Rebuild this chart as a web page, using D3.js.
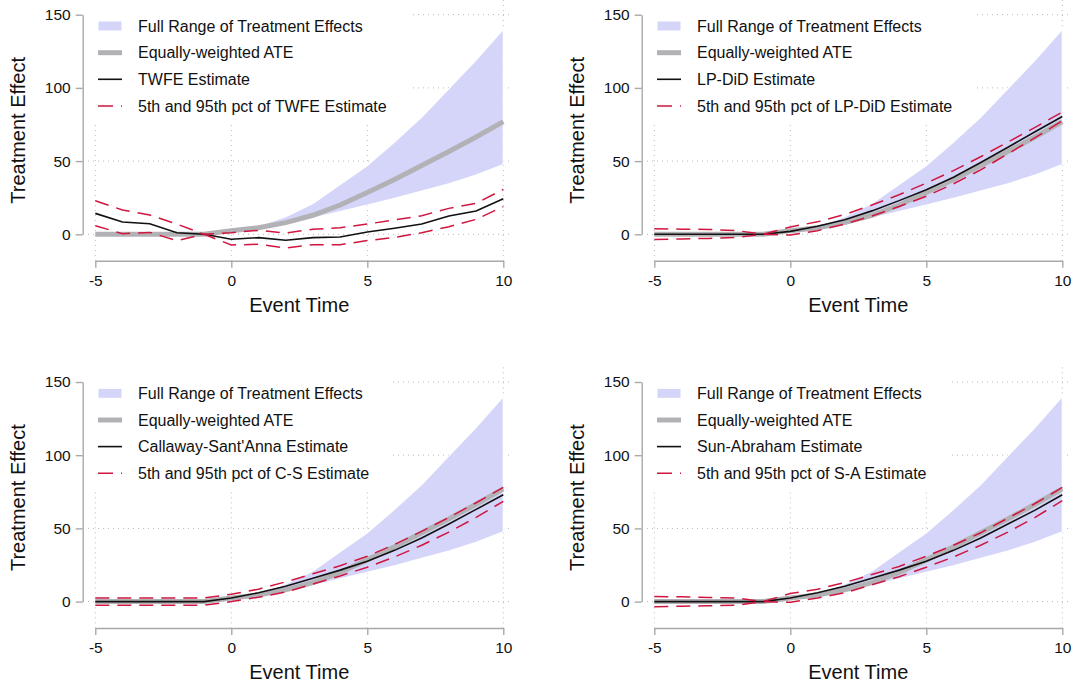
<!DOCTYPE html>
<html>
<head>
<meta charset="utf-8">
<script src="https://cdn.jsdelivr.net/npm/d3@7"></script>
<style>
body { margin: 0; background: #fff; }
text { font-family: "Liberation Sans", Arial, Helvetica, sans-serif; fill: #111; }
</style>
</head>
<body>
<svg id="chart" width="1075" height="686"></svg>
<script>
/*
 *** Data
 */
var eventTime = [-5, -4, -3, -2, -1, 0, 1, 2, 3, 4, 5, 6, 7, 8, 9, 10];

// full range of treatment effects (band) and equally-weighted ATE, same in all panels
var rangeLow  = [0, 0, 0, 0, 0, 2, 3.8, 7, 11, 15.5, 20, 24.5, 29.5, 34.5, 40.5, 47.7];
var rangeHigh = [0, 0, 0, 0, 0, 2.8, 5.8, 12, 21, 34, 47, 63, 80, 99.5, 119, 140];
var ateValues = [0, 0, 0, 0, 0, 2.5, 4.5, 8, 13, 20, 28.5, 37.5, 47, 56.5, 66.5, 77];

// TWFE
var twfeEst = [14.3, 8.4, 7.2, 1.1, 0, -3.4, -2.3, -4.1, -2.3, -1.8, 1.6, 4.1, 7, 12.5, 15.9, 24.3];
var twfeHi  = [22.9, 16.6, 13.2, 7, 0, 1.1, 2.7, 0.9, 3.4, 4.5, 7, 9.8, 12.7, 17.7, 21.1, 30.7];
var twfeLo  = [5.9, 0.4, 1.3, -4.3, 0, -7.3, -6.8, -9.3, -7.1, -7.1, -4.3, -2.1, 1.1, 5.2, 10.2, 18.9];

// LP-DiD
var lpdidEst = [0, 0, 0, 0, 0, 2, 5.5, 10, 16, 23, 30.5, 39, 49, 59.5, 70, 80.5];
var lpdidHi  = [3.8, 3.5, 3.3, 2.6, 0, 5, 8.5, 13.5, 20, 27, 35, 43.5, 53, 63, 73, 83.5];
var lpdidLo  = [-3.5, -3.2, -2.8, -2.2, 0, -0.5, 2.5, 7, 12.5, 19, 26, 34.5, 44, 55, 66, 77.5];

// Callaway-Sant'Anna
var csEst = [0, 0, 0, 0, 0, 2.5, 6, 10.5, 16, 21.5, 27.5, 35, 43.5, 53, 63, 73];
var csHi  = [2.5, 2.5, 2.5, 2.5, 2.5, 5, 8.5, 13.5, 19, 24.5, 31, 39, 48, 57.5, 67.5, 78];
var csLo  = [-2.5, -2.5, -2.5, -2.5, -2.5, 0, 3, 6.5, 12, 17.5, 23.5, 30.5, 38.5, 47.5, 57.5, 68.5];

// Sun-Abraham
var saEst = [0, 0, 0, 0, 0, 2.5, 6, 10.5, 16, 21.5, 27.5, 35, 43.5, 53, 62.5, 73];
var saHi  = [3.5, 3.3, 2.8, 2.5, 0, 5.5, 8.5, 13, 18.5, 24, 31, 38.5, 47, 57, 67, 78];
var saLo  = [-3.5, -3.2, -2.8, -2.5, 0, -0.5, 2.5, 6, 11.5, 17, 23.5, 30.5, 38.5, 47.5, 57.5, 69];

var estimateLabels = ["TWFE Estimate", "LP-DiD Estimate", "Callaway-Sant'Anna Estimate", "Sun-Abraham Estimate"];
var pctLabels = ["5th and 95th pct of TWFE Estimate", "5th and 95th pct of LP-DiD Estimate",
                 "5th and 95th pct of C-S Estimate", "5th and 95th pct of S-A Estimate"];
var bandLabel = "Full Range of Treatment Effects";
var ateLabel = "Equally-weighted ATE";

var xTicks = [-5, 0, 5, 10];
var yTicks = [0, 50, 100, 150];

var panels = [
    {est: twfeEst,  hi: twfeHi,  lo: twfeLo,  col: 0, row: 0},
    {est: lpdidEst, hi: lpdidHi, lo: lpdidLo, col: 1, row: 0},
    {est: csEst,    hi: csHi,    lo: csLo,    col: 0, row: 1},
    {est: saEst,    hi: saHi,    lo: saLo,    col: 1, row: 1}
];

var colors = {
    band: "#d5d5fa",
    ate: "#b2b2b6",
    est: "#111111",
    pct: "#d0163f",
    axis: "#a9a9a9",
    grid: "#b8b8b8"
};

var svg = d3.select("#chart");

// shared panel geometry (each panel is translated into place)
var x = d3.scaleLinear().domain([-5, 10]).range([95.3, 503.3]);
var y = d3.scaleLinear().domain([0, 150]).range([234.3, 14.7]);
var plotLeft = 88, plotRight = 513, plotTop = y(160), xAxisY = 260.7;
var colOffset = [0, 559], rowOffset = [0, 367.3];


/*
 *** Draw one panel
 */
function drawPanel(p, i){
    var g = svg.append("g")
        .attr("transform", "translate(" + colOffset[p.col] + "," + rowOffset[p.row] + ")");

    // dotted grid
    g.selectAll(".vgrid").data(xTicks).enter().append("line")
        .attr("x1", function(d){ return x(d); })
        .attr("x2", function(d){ return x(d); })
        .attr("y1", plotTop).attr("y2", xAxisY)
        .attr("stroke", colors.grid).attr("stroke-width", 1)
        .attr("stroke-dasharray", "1,4");
    g.selectAll(".hgrid").data(yTicks).enter().append("line")
        .attr("x1", plotLeft).attr("x2", plotRight)
        .attr("y1", function(d){ return y(d); })
        .attr("y2", function(d){ return y(d); })
        .attr("stroke", colors.grid).attr("stroke-width", 1)
        .attr("stroke-dasharray", "1,4");

    // band
    var bandData = eventTime.map(function(t, k){ return {t: t, lo: rangeLow[k], hi: rangeHigh[k]}; })
        .filter(function(d){ return d.t >= -1; });
    g.append("path")
        .datum(bandData)
        .attr("d", d3.area()
            .x(function(d){ return x(d.t); })
            .y0(function(d){ return y(d.lo); })
            .y1(function(d){ return y(d.hi); }))
        .attr("fill", colors.band)
        .attr("stroke", "#fff").attr("stroke-width", 1.2);

    var line = d3.line()
        .x(function(d, k){ return x(eventTime[k]); })
        .y(function(d){ return y(d); });

    g.append("path").datum(ateValues).attr("d", line)
        .attr("fill", "none").attr("stroke", colors.ate).attr("stroke-width", 5);
    g.append("path").datum(p.est).attr("d", line)
        .attr("fill", "none").attr("stroke", colors.est).attr("stroke-width", 1.6);
    [p.hi, p.lo].forEach(function(s){
        g.append("path").datum(s).attr("d", line)
            .attr("fill", "none").attr("stroke", colors.pct).attr("stroke-width", 1.5)
            .attr("stroke-dasharray", "14,8");
    });

    // axes
    var xAxis = g.append("g")
        .attr("transform", "translate(0," + xAxisY + ")")
        .call(d3.axisBottom(x).tickValues(xTicks).tickFormat(function(d){ return String(d); })
            .tickSize(7).tickSizeOuter(0).tickPadding(7));
    var yAxis = g.append("g")
        .attr("transform", "translate(82.7,0)")
        .call(d3.axisLeft(y).tickValues(yTicks).tickFormat(function(d){ return String(d); })
            .tickSize(7).tickSizeOuter(0).tickPadding(5));
    [xAxis, yAxis].forEach(function(a){
        a.select(".domain").attr("stroke", colors.axis).attr("stroke-width", 1.4);
        a.selectAll(".tick line").attr("stroke", colors.axis).attr("stroke-width", 1.4);
        a.selectAll(".tick text").attr("font-size", "15.5px").attr("fill", "#111")
            .style("font-family", "'Liberation Sans', Arial, sans-serif");
    });

    g.append("text")
        .attr("x", (x(-5) + x(10)) / 2).attr("y", 312)
        .attr("text-anchor", "middle").attr("font-size", "20px")
        .text("Event Time");
    g.append("text")
        .attr("transform", "translate(25," + ((plotTop + xAxisY) / 2) + ") rotate(-90)")
        .attr("text-anchor", "middle").attr("font-size", "20px")
        .text("Treatment Effect");

    // legend
    var legend = g.append("g");
    var box = legend.append("rect").attr("fill", "#fff");
    var rowsY = [26, 52.7, 79.3, 106];
    var labels = [bandLabel, ateLabel, estimateLabels[i], pctLabels[i]];
    var symX0 = 98, symX1 = 122, textX = 138;

    legend.append("rect")
        .attr("x", symX0).attr("y", rowsY[0] - 5).attr("width", symX1 - symX0).attr("height", 10)
        .attr("fill", colors.band).attr("stroke", "#fff").attr("stroke-width", 1);
    var symStyles = [null,
        {c: colors.ate, w: 5, dash: null},
        {c: colors.est, w: 1.6, dash: null},
        {c: colors.pct, w: 1.5, dash: "15,8"}];
    symStyles.forEach(function(s, k){
        if(!s) return;
        legend.append("line")
            .attr("x1", symX0).attr("x2", symX1)
            .attr("y1", rowsY[k]).attr("y2", rowsY[k])
            .attr("stroke", s.c).attr("stroke-width", s.w)
            .attr("stroke-dasharray", s.dash);
    });
    var texts = legend.selectAll(".legendText").data(labels).enter().append("text")
        .attr("class", "legendText")
        .attr("x", textX)
        .attr("y", function(d, k){ return rowsY[k]; })
        .attr("dy", "0.36em")
        .attr("font-size", "16px")
        .text(function(d){ return d; });

    var maxW = 0;
    texts.each(function(){ maxW = Math.max(maxW, this.getComputedTextLength()); });
    box.attr("x", plotLeft).attr("y", plotTop - 2)
        .attr("width", textX + maxW + 23 - plotLeft)
        .attr("height", 123 - plotTop + 2);
}

panels.forEach(drawPanel);
</script>
</body>
</html>
